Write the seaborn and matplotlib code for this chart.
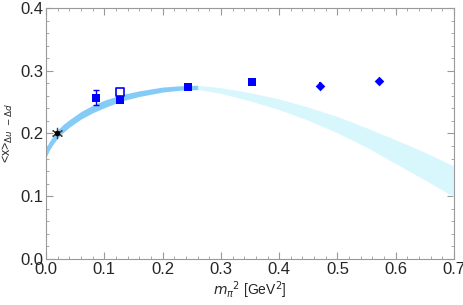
import numpy as np
import pandas as pd
import matplotlib
matplotlib.use('Agg')
import matplotlib.pyplot as plt
import seaborn as sns
from matplotlib.ticker import MultipleLocator, FormatStrFormatter

# fit band (dark part = fitted range, light part = extrapolation)
band_x_fit = [0.0, 0.005, 0.01, 0.02, 0.03, 0.04, 0.06, 0.08, 0.10, 0.13, 0.16, 0.20, 0.23, 0.26]
band_hi_fit = [0.177, 0.186, 0.193, 0.206, 0.215, 0.222, 0.235, 0.245, 0.253, 0.262, 0.268, 0.274, 0.276, 0.277]
band_lo_fit = [0.162, 0.172, 0.180, 0.193, 0.202, 0.210, 0.223, 0.233, 0.241, 0.252, 0.259, 0.266, 0.269, 0.270]

band_x_ext = [0.26, 0.30, 0.35, 0.40, 0.45, 0.50, 0.55, 0.60, 0.65, 0.70]
band_hi_ext = [0.277, 0.273, 0.265, 0.255, 0.242, 0.227, 0.209, 0.190, 0.170, 0.148]
band_lo_ext = [0.270, 0.264, 0.252, 0.238, 0.221, 0.201, 0.178, 0.152, 0.126, 0.099]

# lattice points
sq_x = [0.086, 0.127, 0.127, 0.244, 0.353]
sq_y = [0.257, 0.253, 0.257, 0.274, 0.282]
sq_err = [0.012, 0.003, 0.003, 0.002, 0.002]

open_x = [0.127]
open_y = [0.266]
open_err = [0.004]

dia_x = [0.470, 0.571]
dia_y = [0.276, 0.284]
dia_err = [0.006, 0.003]

phys_x = [0.019]
phys_y = [0.200]

sns.set_style('ticks')
plt.rcParams['font.family'] = ['Liberation Sans', 'DejaVu Sans']

fig = plt.figure(figsize=(4.63, 3.05), dpi=100)
ax = fig.add_axes([0.0994, 0.1508, 0.8812, 0.823])

dark = '#84CBF8'
light = '#D8F7FD'
blue = '#0000FF'

ax.fill_between(band_x_ext, band_lo_ext, band_hi_ext, color=light, lw=0, zorder=1)
ax.fill_between(band_x_fit, band_lo_fit, band_hi_fit, color=dark, lw=0, zorder=2)

ax.errorbar(sq_x, sq_y, yerr=sq_err, fmt='none', ecolor=blue, elinewidth=1, capsize=2, zorder=3)
ax.errorbar(open_x, open_y, yerr=open_err, fmt='none', ecolor=blue, elinewidth=1, capsize=2, zorder=3)
ax.errorbar(dia_x, dia_y, yerr=dia_err, fmt='none', ecolor=blue, elinewidth=1.5, capsize=0, zorder=3)

df_sq = pd.DataFrame({'x': sq_x, 'y': sq_y})
sns.scatterplot(data=df_sq, x='x', y='y', marker='s', s=40, color=blue, edgecolor=blue, linewidth=0, ax=ax, zorder=4)
ax.scatter(open_x, open_y, marker='s', s=36, facecolor='white', edgecolor=blue, linewidth=1.2, zorder=4)
df_dia = pd.DataFrame({'x': dia_x, 'y': dia_y})
sns.scatterplot(data=df_dia, x='x', y='y', marker='D', s=24, color=blue, edgecolor=blue, linewidth=0, ax=ax, zorder=4)
ax.scatter(phys_x, phys_y, marker=(6, 2, 0), s=55, color='#444444', linewidth=0.9, zorder=5)
ax.scatter(phys_x, phys_y, marker='o', s=8, color='black', zorder=5)

ax.set_xlim(0, 0.7)
ax.set_ylim(0, 0.4)
ax.xaxis.set_major_locator(MultipleLocator(0.1))
ax.xaxis.set_minor_locator(MultipleLocator(0.02))
ax.yaxis.set_major_locator(MultipleLocator(0.1))
ax.yaxis.set_minor_locator(MultipleLocator(0.02))
ax.tick_params(which='both', direction='in', top=True, right=True, color='#999999',
               labeltop=False, labelright=False)
ax.tick_params(which='major', length=5, width=0.8, labelsize=12, pad=2)
ax.tick_params(which='minor', length=2.5, width=0.6)
ax.xaxis.set_major_formatter(FormatStrFormatter('%.1f'))
ax.yaxis.set_major_formatter(FormatStrFormatter('%.1f'))
for s in ax.spines.values():
    s.set_color('#999999')
    s.set_linewidth(0.8)

ax.set_xlabel(r'$m_{\pi}$$^2$ [GeV$^2$]', fontsize=10, labelpad=2)
ax.set_ylabel(r'<x>$_{\Delta u\ -\Delta d}$', fontsize=9, labelpad=4)

plt.savefig('out.png', dpi=100)
